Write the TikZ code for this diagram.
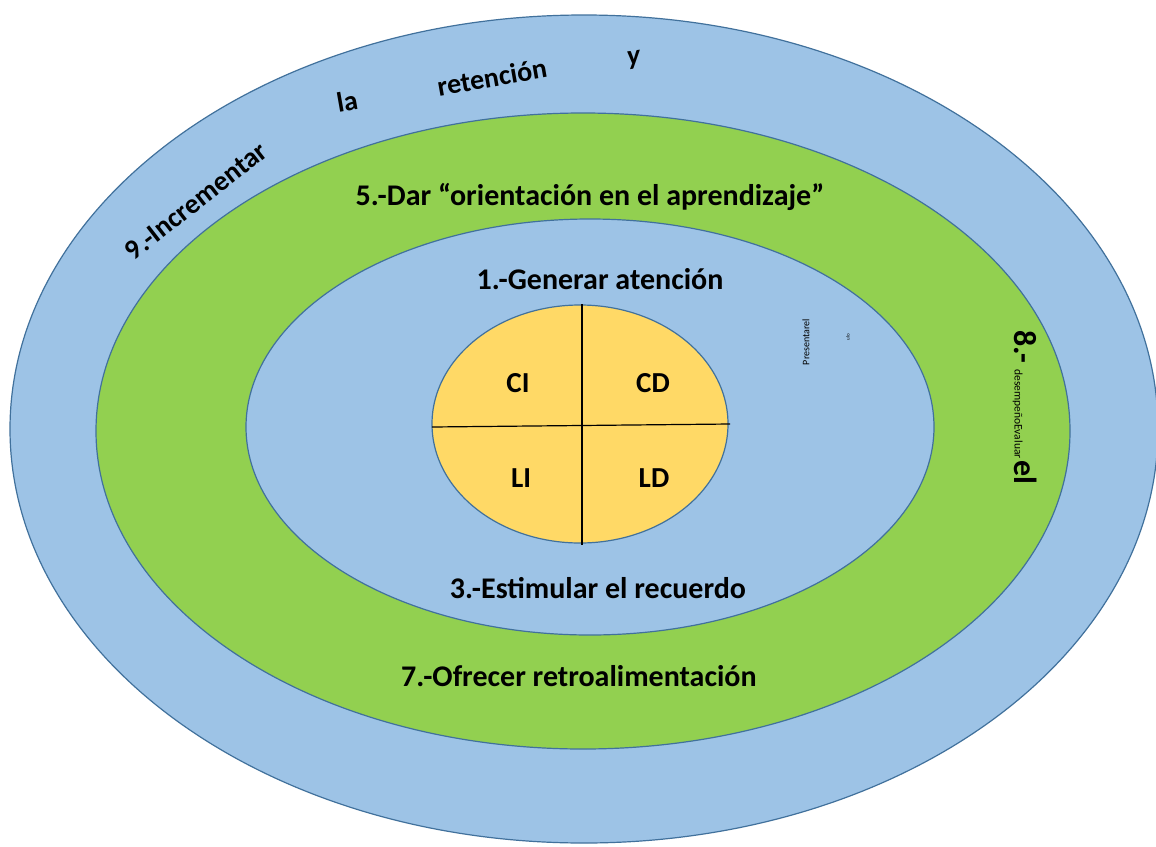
\documentclass[tikz,border=0pt]{standalone}
\usepackage{fontspec}
\setmainfont{Carlito}
\definecolor{ringblue}{HTML}{9DC3E6}
\definecolor{ringgreen}{HTML}{92D050}
\definecolor{coreyellow}{HTML}{FFD966}
\definecolor{edgeblue}{HTML}{41719C}
\tikzset{
  ring/.style={draw=edgeblue, line width=1.2pt},
  lbl/.style={font=\bfseries\fontsize{30}{34}\selectfont, inner sep=0pt, anchor=center},
  arclbl/.style={font=\bfseries\fontsize{28}{32}\selectfont, inner sep=0pt, anchor=center},
  quad/.style={font=\bfseries\fontsize{29}{33}\selectfont, inner sep=0pt},
  divider/.style={draw=black, line width=1.2pt}
}
\begin{document}
\begin{tikzpicture}[x=1pt,y=-1pt]
\useasboundingbox[fill=white] (0,0) rectangle (1156,846);
% rings
\path[ring, fill=ringblue] (584,429) ellipse [x radius=574pt, y radius=414pt];
\path[ring, fill=ringgreen] (583,431) ellipse [x radius=487pt, y radius=318pt];
\path[ring, fill=ringblue] (590,427) ellipse [x radius=344pt, y radius=208pt];
\path[ring, fill=coreyellow] (580,424) ellipse [x radius=148pt, y radius=119pt];
% dividers
\coordinate (vtop) at (582,304);
\coordinate (vbot) at (582,545);
\coordinate (hl) at (432,427);
\coordinate (hr) at (730,424);
\draw[divider] (vtop) -- (vbot);
\draw[divider] (hl) -- (hr);
% quadrant labels
\node[quad] (ci) at (518,383) {CI};
\node[quad] (cd) at (653,383) {CD};
\node[quad] (li) at (521,478) {LI};
\node[quad] (ld) at (654,478) {LD};
% ring labels
\node[lbl] (t5) at (590,197) {5.-Dar “orientación en el aprendizaje”};
\node[lbl] (t1) at (600,279) {1.-Generar atención};
\node[lbl] (t3) at (598,588) {3.-Estimular el recuerdo};
\node[lbl] (t7) at (579,676) {7.-Ofrecer retroalimentación};
% arc text
\node[arclbl, rotate=38] (a1) at (196,201) {9.-Incrementar};
\node[arclbl, rotate=10] (a2) at (347,101) {la};
\node[arclbl, rotate=10] (a3) at (492,77) {retención};
\node[arclbl, rotate=8] (a4) at (634,60) {\itshape y};
% right texts
\node[rotate=-90, inner sep=0pt, anchor=west] (t8) at (1025,330)
  {\bfseries\fontsize{32}{36}\selectfont 8.-\hspace{6pt}{\mdseries\fontsize{11.5}{13}\selectfont desempeñoEvaluar}\hspace{2pt}el};
\node[rotate=90, inner sep=0pt, font=\fontsize{10}{12}\selectfont] (pr) at (806,342) {Presentarel};
\node[rotate=90, inner sep=0pt, font=\fontsize{5}{6}\selectfont] (ul) at (848,337) {ulo};
\end{tikzpicture}
\end{document}
